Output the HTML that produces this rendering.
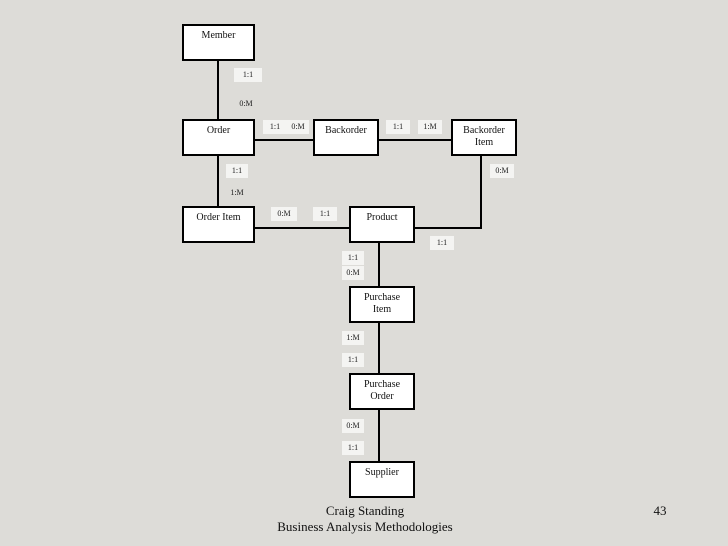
<!DOCTYPE html>
<html><head><style>
body{margin:0;width:728px;height:546px;background:#dddcd8;position:relative;overflow:hidden;font-family:"Liberation Serif",serif;}
.b{position:absolute;background:#fff;border:2px solid #000;box-sizing:border-box;text-align:center;font-size:10px;line-height:12px;padding-top:4px;color:#111;}
.l{position:absolute;background:#f4f4f2;font-size:8px;line-height:14px;text-align:center;color:#222;}
.f{position:absolute;font-size:13px;color:#111;text-align:center;}
</style></head><body>
<svg width="728" height="546" style="position:absolute;left:0;top:0">
<g stroke="#000" stroke-width="2" fill="none">
<line x1="218" y1="60" x2="218" y2="120"/>
<line x1="254" y1="140" x2="314" y2="140"/>
<line x1="378" y1="140" x2="452" y2="140"/>
<line x1="218" y1="155" x2="218" y2="207"/>
<line x1="254" y1="228" x2="350" y2="228"/>
<polyline points="414,228 481,228 481,155"/>
<line x1="379" y1="242" x2="379" y2="462"/>
</g></svg>
<div class="b" style="left:182px;top:24px;width:73px;height:37px">Member</div>
<div class="b" style="left:182px;top:119px;width:73px;height:37px">Order</div>
<div class="b" style="left:313px;top:119px;width:66px;height:37px">Backorder</div>
<div class="b" style="left:451px;top:119px;width:66px;height:37px">Backorder<br>Item</div>
<div class="b" style="left:182px;top:206px;width:73px;height:37px">Order Item</div>
<div class="b" style="left:349px;top:206px;width:66px;height:37px">Product</div>
<div class="b" style="left:349px;top:286px;width:66px;height:37px">Purchase<br>Item</div>
<div class="b" style="left:349px;top:373px;width:66px;height:37px">Purchase<br>Order</div>
<div class="b" style="left:349px;top:461px;width:66px;height:37px">Supplier</div>
<div class="l" style="left:234px;top:68px;width:28px">1:1</div>
<div class="l" style="left:234px;top:97px;width:24px;background:none">0:M</div>
<div class="l" style="left:263px;top:120px;width:24px">1:1</div>
<div class="l" style="left:287px;top:120px;width:22px">0:M</div>
<div class="l" style="left:386px;top:120px;width:24px">1:1</div>
<div class="l" style="left:418px;top:120px;width:24px">1:M</div>
<div class="l" style="left:226px;top:164px;width:22px">1:1</div>
<div class="l" style="left:226px;top:186px;width:22px;background:none">1:M</div>
<div class="l" style="left:271px;top:207px;width:26px">0:M</div>
<div class="l" style="left:313px;top:207px;width:24px">1:1</div>
<div class="l" style="left:490px;top:164px;width:24px">0:M</div>
<div class="l" style="left:430px;top:236px;width:24px">1:1</div>
<div class="l" style="left:342px;top:251px;width:22px">1:1</div>
<div class="l" style="left:342px;top:266px;width:22px">0:M</div>
<div class="l" style="left:342px;top:331px;width:22px">1:M</div>
<div class="l" style="left:342px;top:353px;width:22px">1:1</div>
<div class="l" style="left:342px;top:419px;width:22px">0:M</div>
<div class="l" style="left:342px;top:441px;width:22px">1:1</div>
<div class="f" style="left:220px;top:503px;width:290px;line-height:16px">Craig Standing<br>Business Analysis Methodologies</div>
<div class="f" style="left:645px;top:503px;width:30px">43</div>
</body></html>
